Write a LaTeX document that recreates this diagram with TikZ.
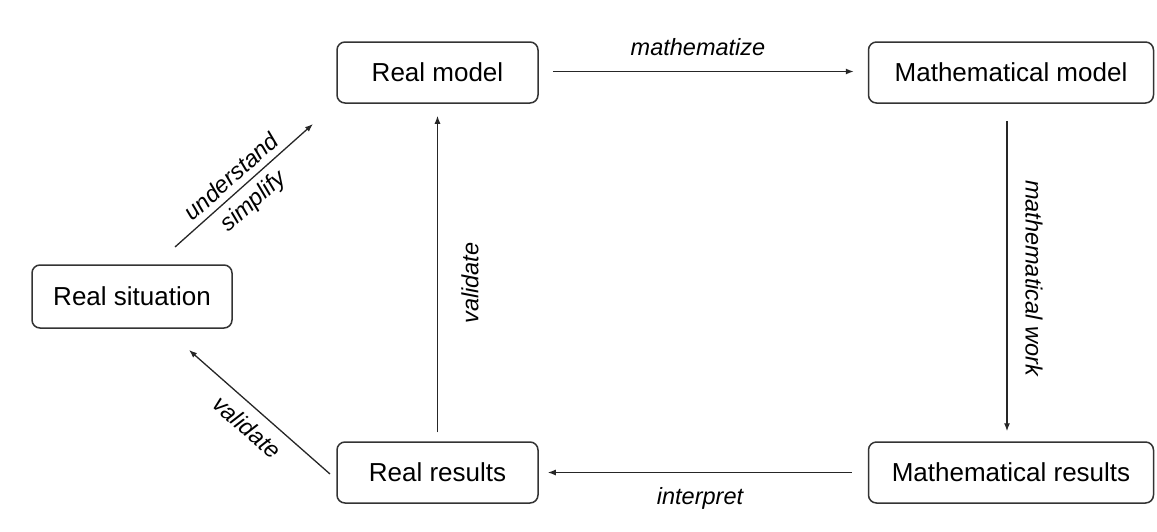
\documentclass[tikz,border=0pt]{standalone}
\usepackage{fontspec}
\setmainfont{Liberation Sans}
\usetikzlibrary{arrows.meta,calc}
\begin{document}
\begin{tikzpicture}[x=1pt,y=-1pt,
  box/.style={draw=black!80, line width=1.5pt, rounded corners=8pt, inner sep=0pt,
    minimum height=61pt, font=\fontsize{26}{31}\selectfont},
  narrowbox/.style={box, minimum width=201pt},
  widebox/.style={box, minimum width=285pt},
  arr/.style={draw=black!85, line width=1.3pt, -{Latex[length=8pt,width=6pt]}},
  lbl/.style={font=\fontsize{23.5}{32}\selectfont\itshape, inner sep=0pt, align=center}]
\useasboundingbox (0,0) rectangle (1157,531);
\node[narrowbox] (rm) at (437.5,72.5) {Real model};
\node[widebox] (mm) at (1011,72.5) {Mathematical model};
\node[box, minimum width=200pt, minimum height=63pt] (rs) at (132,296.5) {Real situation};
\node[narrowbox] (rr) at (437.5,472.5) {Real results};
\node[widebox] (mr) at (1011,472.5) {Mathematical results};
\coordinate (u1) at (175,247);
\coordinate (u2) at (313,124);
\coordinate (v1) at (330,474);
\coordinate (v2) at (189,350);
% connectors
\draw[arr] ($(rm.east)+(14,-1)$) -- ($(mm.west)+(-14,-1)$);
\draw[arr] ($(mm.south)+(-4,17)$) -- ($(mm.south |- mr.north)+(-4,-10)$);
\draw[arr] ($(mr.west)+(-16,0)$) -- ($(rr.east)+(9,0)$);
\draw[arr] ($(rr.north)+(0,-9)$) -- ($(rm.south)+(0,12)$);
\draw[arr] (u1) -- (u2);
\draw[arr] (v1) -- (v2);
% labels
\node[lbl] (lmath) at (698,47) {mathematize};
\node[lbl] (linter) at (700,498) {interpret};
\node[lbl, rotate=-90] (lwork) at (1034,278) {mathematical work};
\node[lbl, rotate=90] (lval) at (470,283) {validate};
\node[lbl, rotate=41.7] (lund) at (243,190) {understand\\simplify};
\node[lbl, rotate=-41.3] (lval2) at (247,427) {validate};
\end{tikzpicture}
\end{document}
